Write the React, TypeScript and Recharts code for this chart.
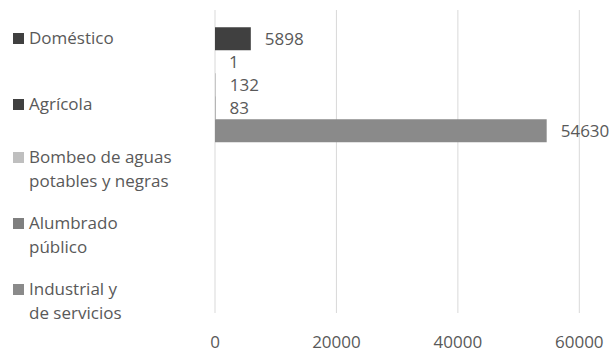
import React from 'react';
import { BarChart, Bar, XAxis, YAxis, CartesianGrid, Legend, LabelList } from 'recharts';

const categories = ['Consumo', ''];
const seriesNames = [
  'Doméstico',
  'Agrícola',
  'Bombeo de aguas\npotables y negras',
  'Alumbrado\npúblico',
  'Industrial y\nde servicios',
];
const seriesKeys = ['dom', 'agr', 'bom', 'alu', 'ind'];
const seriesValues = [5898, 1, 132, 83, 54630];
const seriesColors = ['#404040', '#404040', '#bfbfbf', '#7f7f7f', '#8a8a8a'];
const xTicks = [0, 20000, 40000, 60000];

const data = categories.map((cat, ci) => {
  const row: Record<string, any> = { cat };
  seriesKeys.forEach((k, i) => {
    row[k] = ci === 0 ? seriesValues[i] : null;
  });
  return row;
});

const FONT = '"Open Sans", sans-serif';
const TEXT = '#595959';

const LegendContent = (props: any) => {
  const payload = [...(props.payload || [])].sort(
    (a: any, b: any) => seriesKeys.indexOf(a.dataKey) - seriesKeys.indexOf(b.dataKey)
  );
  return (
    <div style={{ fontFamily: FONT, fontSize: 17, color: TEXT }}>
      {payload.map((p: any, i: number) => (
        <div
          key={i}
          style={{ height: 65.75, display: 'flex', flexDirection: 'column', justifyContent: 'center' }}
        >
          <div style={{ display: 'flex', alignItems: 'flex-start' }}>
            <div
              style={{
                width: 11,
                height: 11,
                background: p.color,
                marginLeft: 13,
                marginRight: 5,
                marginTop: 7,
                flex: 'none',
              }}
            />
            <div style={{ whiteSpace: 'pre-line', lineHeight: '24px' }}>{p.value}</div>
          </div>
        </div>
      ))}
    </div>
  );
};

export default function App() {
  return (
    <div style={{ position: 'absolute', left: 0, top: 0, width: 609, height: 351, background: '#fff' }}>
      <BarChart
        width={609}
        height={351}
        data={data}
        layout="vertical"
        margin={{ top: 10, right: 29.7, left: 215, bottom: 0 }}
        barCategoryGap={17.25}
        barGap={0}
      >
        <CartesianGrid horizontal={false} stroke="#d9d9d9" strokeWidth={1} />
        <XAxis
          type="number"
          domain={[0, 60000]}
          ticks={xTicks}
          axisLine={false}
          tickLine={false}
          height={38}
          tickMargin={17}
          tick={{ fill: TEXT, fontSize: 17, fontFamily: FONT }}
        />
        <YAxis type="category" dataKey="cat" hide width={0} />
        <Legend
          layout="horizontal"
          verticalAlign="middle"
          align="center"
          content={<LegendContent />}
          wrapperStyle={{ left: 0, top: 5, width: 200, height: 330 }}
        />
        {seriesKeys.map((k, i) => (
          <Bar
            key={k}
            dataKey={k}
            name={seriesNames[i]}
            fill={seriesColors[i]}
            isAnimationActive={false}
          >
            <LabelList
              dataKey={k}
              position="right"
              offset={14}
              fill={TEXT}
              fontSize={17}
              fontFamily={FONT}
            />
          </Bar>
        ))}
      </BarChart>
    </div>
  );
}
